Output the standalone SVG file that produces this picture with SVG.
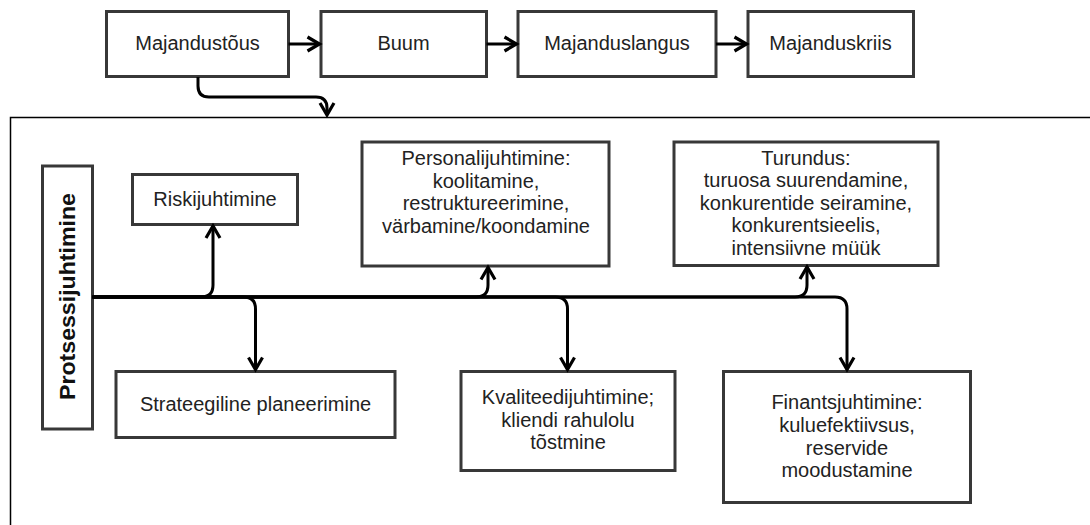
<svg xmlns="http://www.w3.org/2000/svg" width="1090" height="525" viewBox="0 0 1090 525">
<defs>
<style>
.box{fill:#fff;stroke:#383838;stroke-width:3}
.t{font-family:"Liberation Sans",Arial,sans-serif;font-size:20px;fill:#222;text-anchor:middle}
.c{fill:none;stroke:#000;stroke-width:3}
.frame{fill:none;stroke:#000;stroke-width:1.5}
</style>
<marker id="ah" markerUnits="userSpaceOnUse" markerWidth="20" markerHeight="20" viewBox="-14 -10 20 20" refX="0" refY="0" orient="auto">
<path d="M-12,-7 L0,0 L-12,7" fill="none" stroke="#000" stroke-width="3.2"/>
</marker>
</defs>
<rect width="1090" height="525" fill="#fff"/>
<path class="frame" d="M10.5,525 V117.5 H1090"/>

<g id="n-majandustous"><rect class="box" x="106.5" y="11.5" width="182" height="65"/><text class="t" x="197.5" y="50">Majandustõus</text></g>
<g id="n-buum"><rect class="box" x="321" y="11.5" width="165.5" height="65"/><text class="t" x="403.5" y="50">Buum</text></g>
<g id="n-majanduslangus"><rect class="box" x="518" y="11.5" width="198" height="65"/><text class="t" x="617" y="50">Majanduslangus</text></g>
<g id="n-majanduskriis"><rect class="box" x="748" y="11.5" width="165.5" height="65"/><text class="t" x="830.5" y="50">Majanduskriis</text></g>

<g id="n-protsessijuhtimine"><rect class="box" x="42.5" y="166" width="50" height="263"/><text x="0" y="0" transform="translate(75,296.5) rotate(-90)" style="font-family:'Liberation Sans',Arial,sans-serif;font-size:22.5px;font-weight:bold;fill:#111;text-anchor:middle" textLength="207" lengthAdjust="spacingAndGlyphs">Protsessijuhtimine</text></g>

<g id="n-riskijuhtimine"><rect class="box" x="132.5" y="174.5" width="165" height="50"/><text class="t" x="215" y="206">Riskijuhtimine</text></g>

<g id="n-personalijuhtimine"><rect class="box" x="362" y="142" width="247" height="124"/>
<text class="t" x="486" y="165">Personalijuhtimine:</text>
<text class="t" x="486" y="187.5">koolitamine,</text>
<text class="t" x="486" y="210">restruktureerimine,</text>
<text class="t" x="486" y="232.5">värbamine/koondamine</text></g>

<g id="n-turundus"><rect class="box" x="674" y="142" width="264" height="123.5"/>
<text class="t" x="806" y="164.5">Turundus:</text>
<text class="t" x="806" y="187">turuosa suurendamine,</text>
<text class="t" x="806" y="209.5">konkurentide seiramine,</text>
<text class="t" x="806" y="232">konkurentsieelis,</text>
<text class="t" x="806" y="254.5">intensiivne müük</text></g>

<g id="n-strateegiline"><rect class="box" x="116" y="371.5" width="279" height="66"/><text class="t" x="255.5" y="410.5">Strateegiline planeerimine</text></g>

<g id="n-kvaliteedijuhtimine"><rect class="box" x="461" y="371.5" width="214" height="99"/>
<text class="t" x="568" y="404">Kvaliteedijuhtimine;</text>
<text class="t" x="568" y="426.5">kliendi rahulolu</text>
<text class="t" x="568" y="449">tõstmine</text></g>

<g id="n-finantsjuhtimine"><rect class="box" x="723.5" y="371.5" width="247" height="131"/>
<text class="t" x="847" y="409">Finantsjuhtimine:</text>
<text class="t" x="847" y="431.5">kuluefektiivsus,</text>
<text class="t" x="847" y="454.5">reservide</text>
<text class="t" x="847" y="477">moodustamine</text></g>

<g id="connectors">
<path class="c" marker-end="url(#ah)" d="M288.5,44 H319.5"/>
<path class="c" marker-end="url(#ah)" d="M486.5,44 H516.5"/>
<path class="c" marker-end="url(#ah)" d="M716,44 H746.5"/>
<path class="c" marker-end="url(#ah)" d="M198,77 V86 Q198,97 209,97 H316 Q327,97 327,108 V115"/>
<path class="c" marker-end="url(#ah)" d="M92.5,297 H201 Q213,297 213,285 V226"/>
<path class="c" marker-end="url(#ah)" d="M92.5,297 H243.5 Q255.5,297 255.5,309 V369.5"/>
<path class="c" marker-end="url(#ah)" d="M92.5,297 H476 Q488,297 488,285 V267.5"/>
<path class="c" marker-end="url(#ah)" d="M92.5,297 H555.5 Q567.5,297 567.5,309 V369.5"/>
<path class="c" marker-end="url(#ah)" d="M92.5,297 H795 Q807,297 807,285 V267"/>
<path class="c" marker-end="url(#ah)" d="M92.5,297 H835 Q847,297 847,309 V369.5"/>
</g>
</svg>
